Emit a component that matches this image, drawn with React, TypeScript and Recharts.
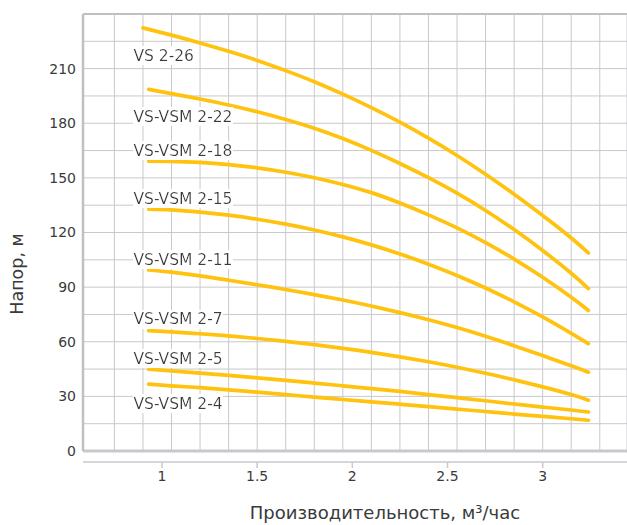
import { ComposedChart, Line, Scatter, XAxis, YAxis, CartesianGrid, ReferenceLine } from "recharts";

const FONT = "'DejaVu Sans', sans-serif";
const TEXT = "#3a3a3a";
const GRID = "#c9c9cd";
const BORDER = "#bfbfc4";
const CURVE = "#FFC20E";

// flow, m3/h (x values the curves were read at)
const FLOW = [0.9, 0.93, 1.05, 1.2, 1.35, 1.5, 1.65, 1.8, 1.95, 2.1, 2.25, 2.4, 2.55, 2.7, 2.85, 3.0, 3.15, 3.24];

// head, m
const VS_2_26 = [232.4, null, 228.4, 224.1, 219.5, 214.5, 208.9, 202.8, 196.0, 188.6, 180.6, 171.8, 162.3, 152.0, 141.0, 129.3, 117.0, 108.8];
const VSM_2_22 = [null, 198.6, 196.3, 193.3, 190.0, 186.3, 182.1, 177.3, 171.6, 165.1, 157.9, 150.1, 141.6, 132.1, 121.6, 110.1, 97.6, 89.2];
const VSM_2_18 = [null, 159.2, 159.1, 158.5, 157.3, 155.5, 153.1, 150.1, 146.4, 141.9, 136.2, 129.7, 122.5, 114.4, 105.4, 95.4, 84.4, 77.2];
const VSM_2_15 = [null, 132.8, 132.4, 131.2, 129.5, 127.3, 124.6, 121.4, 117.6, 113.2, 108.2, 102.6, 96.4, 89.5, 81.9, 73.6, 64.6, 59.0];
const VSM_2_11 = [null, 99.4, 98.2, 96.2, 93.8, 91.3, 88.7, 85.9, 82.9, 79.6, 76.0, 72.1, 67.8, 63.0, 57.8, 52.4, 46.8, 43.3];
const VSM_2_7 = [null, 66.1, 65.4, 64.4, 63.2, 61.8, 60.2, 58.4, 56.4, 54.2, 51.7, 49.0, 46.0, 42.7, 39.1, 35.2, 31.0, 27.9];
const VSM_2_5 = [null, 44.9, 44.0, 42.8, 41.5, 40.2, 38.8, 37.3, 35.8, 34.3, 32.7, 31.0, 29.3, 27.6, 25.8, 24.1, 22.5, 21.4];
const VSM_2_4 = [null, 36.7, 35.8, 34.8, 33.6, 32.3, 31.0, 29.6, 28.3, 27.0, 25.7, 24.4, 23.0, 21.7, 20.3, 19.0, 17.7, 16.9];

const SERIES_NAMES = ["VS 2-26", "VS-VSM 2-22", "VS-VSM 2-18", "VS-VSM 2-15", "VS-VSM 2-11", "VS-VSM 2-7", "VS-VSM 2-5", "VS-VSM 2-4"];
const HEADS = [VS_2_26, VSM_2_22, VSM_2_18, VSM_2_15, VSM_2_11, VSM_2_7, VSM_2_5, VSM_2_4];

// where each name sits (data units)
const LABEL_FLOW = 0.85;
const LABEL_HEAD = [217.4, 183.8, 165.3, 138.8, 105.3, 72.6, 51.0, 26.3];

const FLOW_TICKS = [1, 1.5, 2, 2.5, 3];
const FLOW_GRID = [0.75, 0.9, 1.05, 1.2, 1.35, 1.5, 1.65, 1.8, 1.95, 2.1, 2.25, 2.4, 2.55, 2.7, 2.85, 3.0, 3.15, 3.3];
const HEAD_TICKS = [0, 15, 30, 45, 60, 75, 90, 105, 120, 135, 150, 165, 180, 195, 210, 225, 240];

const X_DOMAIN: [number, number] = [0.585, 3.443];

const rows = FLOW.map((flow, i) => {
  const row: Record<string, number | null> = { flow };
  HEADS.forEach((h, j) => {
    row[`s${j}`] = h[i];
  });
  return row;
});

const labelRows = SERIES_NAMES.map((name, i) => ({ flow: LABEL_FLOW, head: LABEL_HEAD[i], name }));

function SeriesLabel(props: any) {
  const { cx, cy, payload, index } = props;
  const id = `lbl-bg-${index}`;
  return (
    <g>
      <defs>
        <filter id={id} x="0" y="0" width="1" height="1">
          <feFlood floodColor="#ffffff" />
          <feComposite in="SourceGraphic" operator="over" />
        </filter>
      </defs>
      <text
        x={cx}
        y={cy}
        dy="0.36em"
        filter={`url(#${id})`}
        fill={TEXT}
        fontSize={15.5}
        fontFamily={FONT}
      >
        {payload.name}
      </text>
    </g>
  );
}

export default function App() {
  return (
    <div style={{ position: "absolute", left: 0, top: 0, width: 627, height: 525, background: "#fff" }}>
      <ComposedChart width={627} height={525} data={rows} margin={{ top: 14, right: 0, bottom: 0, left: 0 }}>
        <XAxis xAxisId="grid" dataKey="flow" type="number" domain={X_DOMAIN} ticks={FLOW_GRID} interval={0} allowDataOverflow hide />
        <XAxis
          xAxisId="flow"
          dataKey="flow"
          type="number"
          domain={X_DOMAIN}
          ticks={FLOW_TICKS}
          interval={0}
          allowDataOverflow
          height={74}
          axisLine={{ stroke: GRID, strokeWidth: 1.5, transform: "translate(0, 11)" }}
          tickLine={{ stroke: GRID, strokeWidth: 1.5, transform: "translate(0, 11)" }}
          tickSize={6}
          tickMargin={14}
          tick={{ fill: TEXT, fontSize: 14, fontFamily: FONT }}
          label={{
            content: () => (
              <text x={385} y={519} textAnchor="middle" fill={TEXT} fontSize={18} fontFamily={FONT}>
                Производительность, м³/час
              </text>
            ),
          }}
        />
        <YAxis
          type="number"
          domain={[0, 240]}
          ticks={HEAD_TICKS}
          interval={0}
          width={83}
          axisLine={{ stroke: BORDER, strokeWidth: 2.5 }}
          tickLine={false}
          tickSize={0}
          tickMargin={7}
          tick={{ fill: TEXT, fontSize: 14, fontFamily: FONT }}
          tickFormatter={(v: number) => (v % 30 === 0 && v < 240 ? String(v) : "")}
          label={{
            content: () => (
              <text
                x={17}
                y={274}
                transform="rotate(-90 17 274)"
                textAnchor="middle"
                dominantBaseline="central"
                fill={TEXT}
                fontSize={17.5}
                fontFamily={FONT}
              >
                Напор, м
              </text>
            ),
          }}
        />
        <CartesianGrid xAxisId="grid" stroke={GRID} strokeWidth={1} />
        <ReferenceLine xAxisId="flow" y={240} stroke={BORDER} strokeWidth={2} />
        <ReferenceLine xAxisId="flow" y={0} stroke={GRID} strokeWidth={3} />
        <Scatter xAxisId="flow" data={labelRows} dataKey="head" shape={SeriesLabel} isAnimationActive={false} />
        {SERIES_NAMES.map((name, j) => (
          <Line
            key={name}
            xAxisId="flow"
            name={name}
            dataKey={`s${j}`}
            type="natural"
            stroke={CURVE}
            strokeWidth={3.7}
            strokeLinecap="round"
            dot={false}
            activeDot={false}
            connectNulls
            isAnimationActive={false}
          />
        ))}
      </ComposedChart>
    </div>
  );
}
